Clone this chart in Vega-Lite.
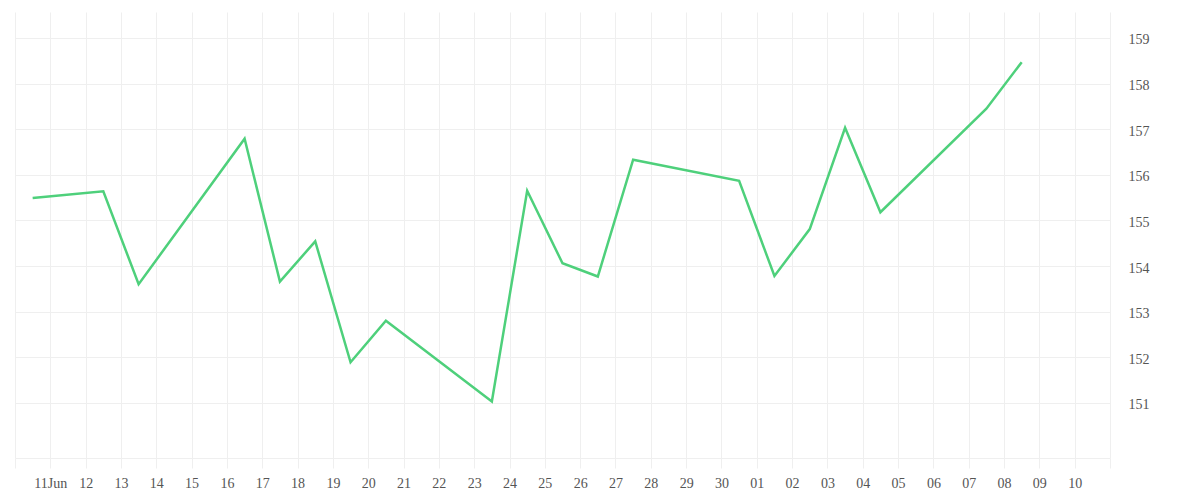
{
  "$schema": "https://vega.github.io/schema/vega-lite/v6.json",
  "autosize": "none",
  "width": 1095,
  "height": 446,
  "padding": {"left": 15, "top": 12, "right": 90, "bottom": 42},
  "background": "white",
  "config": {
    "view": {"stroke": null},
    "axis": {"labelFont": "Liberation Serif", "labelFontSize": 14, "labelColor": "#555", "gridColor": "#efefef", "gridWidth": 1, "domainColor": "#efefef", "tickColor": "#efefef"}
  },
  "data": {
    "values": [
      {"date": "2024-06-10T12:00", "price": 155.49},
      {"date": "2024-06-12T12:00", "price": 155.64},
      {"date": "2024-06-13T12:00", "price": 153.6},
      {"date": "2024-06-16T12:00", "price": 156.79},
      {"date": "2024-06-17T12:00", "price": 153.66},
      {"date": "2024-06-18T12:00", "price": 154.54},
      {"date": "2024-06-19T12:00", "price": 151.89},
      {"date": "2024-06-20T12:00", "price": 152.8},
      {"date": "2024-06-23T12:00", "price": 151.03},
      {"date": "2024-06-24T12:00", "price": 155.65},
      {"date": "2024-06-25T12:00", "price": 154.06},
      {"date": "2024-06-26T12:00", "price": 153.77},
      {"date": "2024-06-27T12:00", "price": 156.33},
      {"date": "2024-06-30T12:00", "price": 155.87},
      {"date": "2024-07-01T12:00", "price": 153.78},
      {"date": "2024-07-02T12:00", "price": 154.81},
      {"date": "2024-07-03T12:00", "price": 157.03},
      {"date": "2024-07-04T12:00", "price": 155.18},
      {"date": "2024-07-07T12:00", "price": 157.45},
      {"date": "2024-07-08T12:00", "price": 158.47}
    ]
  },
  "mark": {"type": "line", "color": "#4ed07b", "strokeWidth": 2.5},
  "encoding": {
    "x": {
      "field": "date",
      "type": "temporal",
      "scale": {"domain": ["2024-06-10T00:00", "2024-07-11T00:00"], "nice": false},
      "axis": {
        "title": null,
        "tickCount": {"interval": "day", "step": 1},
        "tickSize": 10,
        "labelPadding": 8,
        "labelOverlap": false,
        "labelFlush": false,
        "labelExpr": "(month(datum.value) == 5 && date(datum.value) == 10) || (month(datum.value) == 6 && date(datum.value) == 11) ? '' : (month(datum.value) == 5 && date(datum.value) == 11 ? '11Jun' : timeFormat(datum.value, '%d'))"
      }
    },
    "y": {
      "field": "price",
      "type": "quantitative",
      "scale": {"domain": [149.79, 159.57], "nice": false, "zero": false},
      "axis": {
        "title": null,
        "orient": "right",
        "values": [151, 152, 153, 154, 155, 156, 157, 158, 159],
        "ticks": false,
        "domain": false,
        "labelPadding": 18,
        "labelOffset": 2
      }
    }
  }
}
